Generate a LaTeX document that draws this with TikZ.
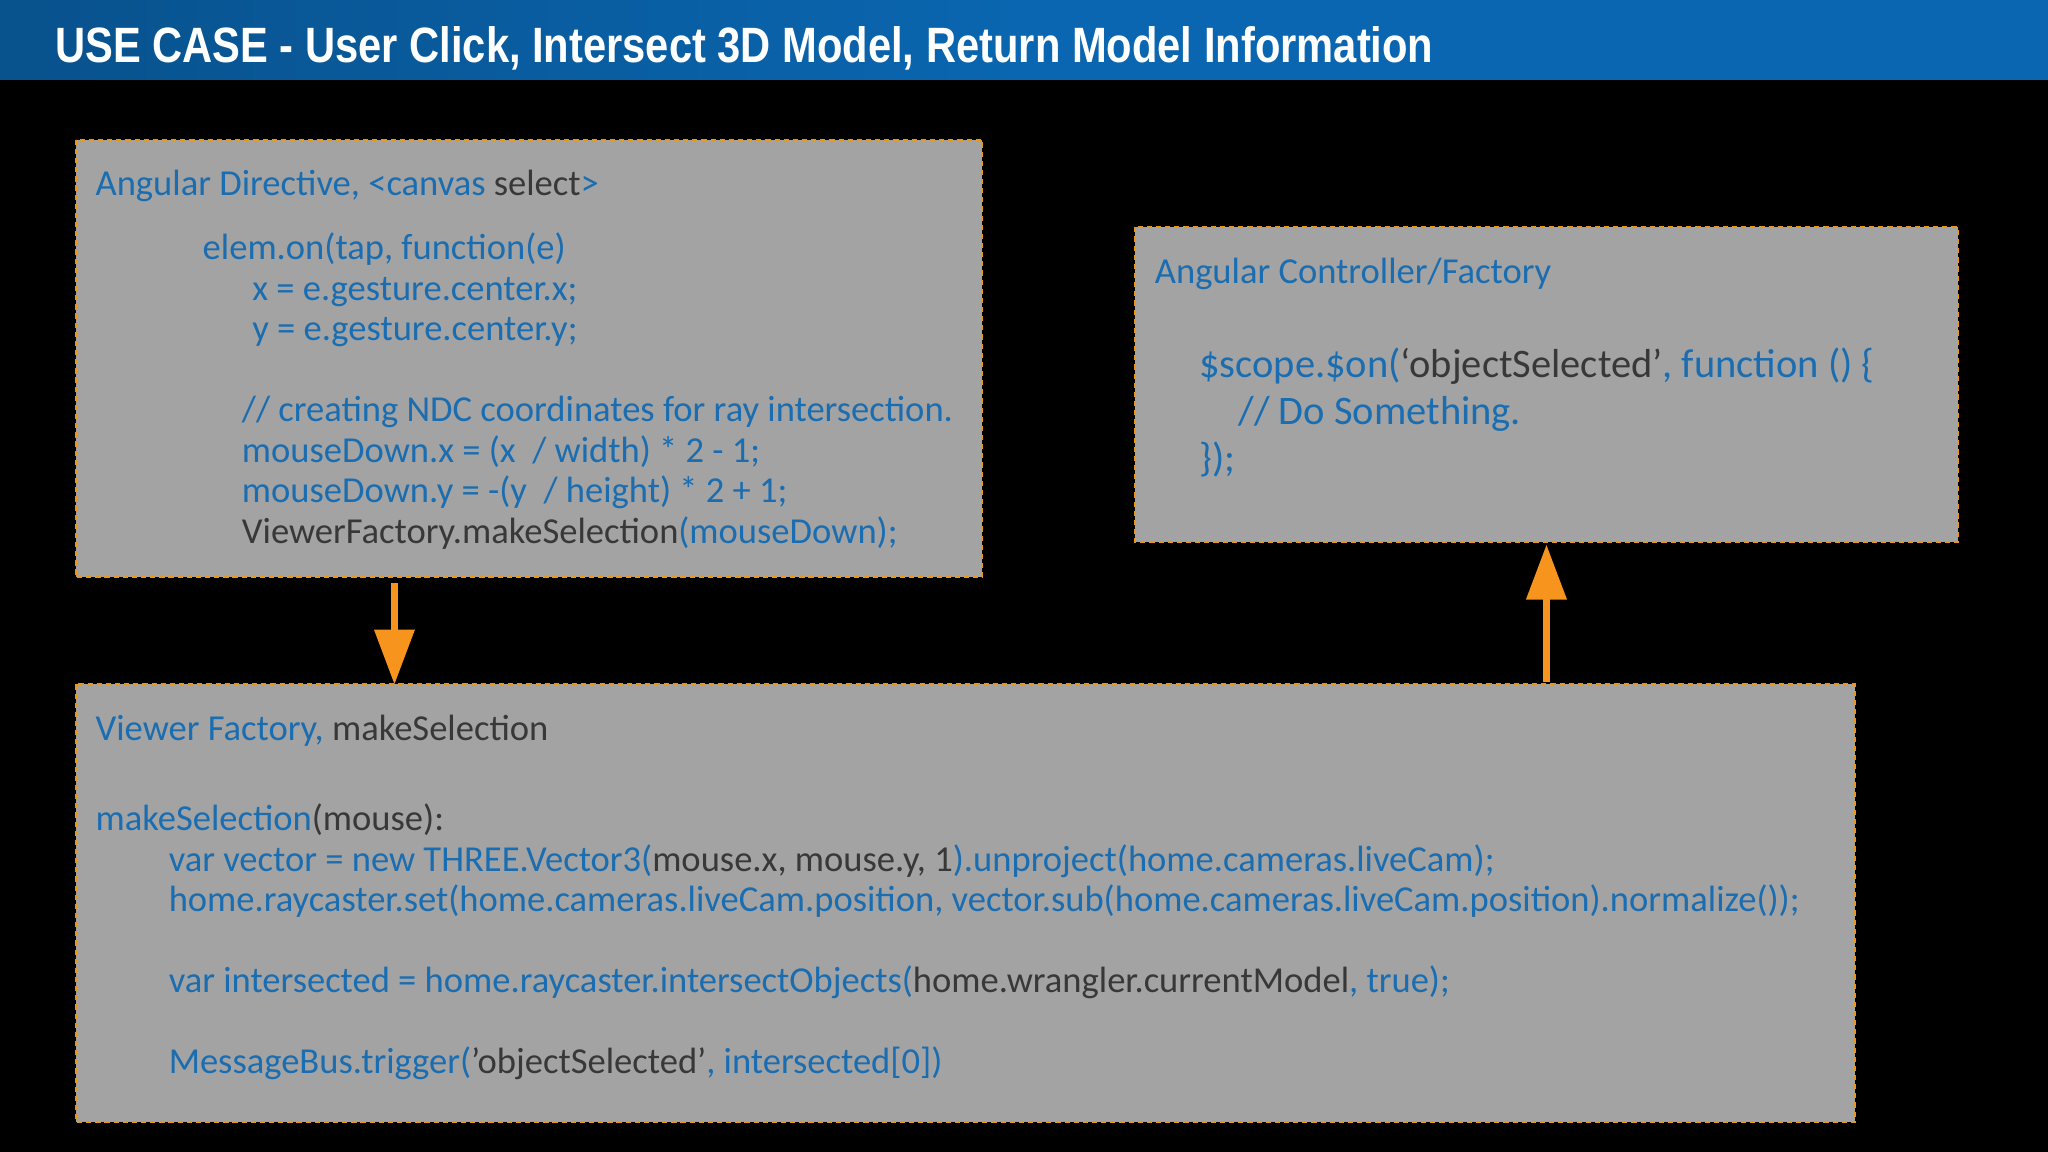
\documentclass[tikz,border=0pt]{standalone}
\usepackage{fontspec}
\setmainfont{Carlito}
\newfontfamily\titlefont{Liberation Sans}
\definecolor{cblue}{HTML}{1A6DB0}
\definecolor{cdark}{HTML}{383838}
\definecolor{boxgrey}{HTML}{A3A3A3}
\definecolor{borange}{HTML}{E8961E}
\definecolor{aorange}{HTML}{F7941D}
\definecolor{bar}{HTML}{0A66B0}
\begin{document}
\begin{tikzpicture}[x=1pt,y=-1pt,
  codebox/.style={fill=boxgrey,draw=borange,line width=1.5pt,dash pattern=on 4pt off 3pt},
  txt/.style={anchor=base west,inner sep=0pt,text=cblue,font=\fontsize{28}{30}\selectfont},
  big/.style={txt,font=\fontsize{31}{33}\selectfont},
  flow/.style={aorange,line width=5pt,-{Triangle[width=30pt,length=42pt]}}]
\usetikzlibrary{arrows.meta}
\useasboundingbox (0,0) rectangle (1568,882);
\fill[black] (0,0) rectangle (1568,882);
\shade[left color=bar!80!black,right color=bar,middle color=bar] (0,0) rectangle (1568,61);
\node[anchor=base west,inner sep=0pt,text=white] (title) at (42,48)
  {\scalebox{0.84}[1]{\titlefont\bfseries\fontsize{38}{40}\selectfont USE CASE - User Click, Intersect 3D Model, Return Model Information}};
% boxes
\path[codebox] (58,107) rectangle (752,442);
\path[codebox] (869,174) rectangle (1499,415);
\path[codebox] (58,524) rectangle (1420,859);
\coordinate (b1) at (302,446);
\coordinate (b3t) at (302,524);
\coordinate (b3u) at (1184,522);
\coordinate (b2b) at (1184,417);
\draw[flow] (b1) -- (b3t);
\draw[flow] (b3u) -- (b2b);
% box 1
\node[txt] (t1) at (73,150) {Angular Directive, {<}canvas \textcolor{cdark}{select}{>}};
\node[txt] (l11) at (155,199) {elem.on(tap, function(e)};
\node[txt] (l12) at (193,230) {x = e.gesture.center.x;};
\node[txt] (l13) at (193,261) {y = e.gesture.center.y;};
\node[txt] (l14) at (185,323) {// creating NDC coordinates for ray intersection.};
\node[txt] (l15) at (185,354) {mouseDown.x = (x\ \ / width) * 2 - 1;};
\node[txt] (l16) at (185,385) {mouseDown.y = -(y\ \ / height) * 2 + 1;};
\node[txt] (l17) at (185,416) {\textcolor{cdark}{ViewerFactory.makeSelection}(mouseDown);};
% box 2
\node[txt] (t2) at (884,217) {Angular Controller/Factory};
\node[big] (l21) at (918,289) {\$scope.\$on(\textcolor{cdark}{‘objectSelected’}, function () \{};
\node[big] (l22) at (948,325) {// Do Something.};
\node[big] (l23) at (918,361) {\});};
% box 3
\node[txt] (t3) at (73,567) {Viewer Factory, \textcolor{cdark}{makeSelection}};
\node[txt] (l31) at (73,636) {makeSelection\textcolor{cdark}{(mouse):}};
\node[txt] (l32) at (129,667) {var vector = new THREE.Vector3(\textcolor{cdark}{ mouse.x, mouse.y, 1}).unproject(home.cameras.liveCam);};
\node[txt] (l33) at (129,698) {home.raycaster.set(home.cameras.liveCam.position, vector.sub(home.cameras.liveCam.position).normalize());};
\node[txt] (l34) at (129,760) {var intersected = home.raycaster.intersectObjects(\textcolor{cdark}{home.wrangler.currentModel}, true);};
\node[txt] (l35) at (129,822) {MessageBus.trigger(\textcolor{cdark}{'objectSelected'}, intersected[0])};
\end{tikzpicture}
\end{document}
